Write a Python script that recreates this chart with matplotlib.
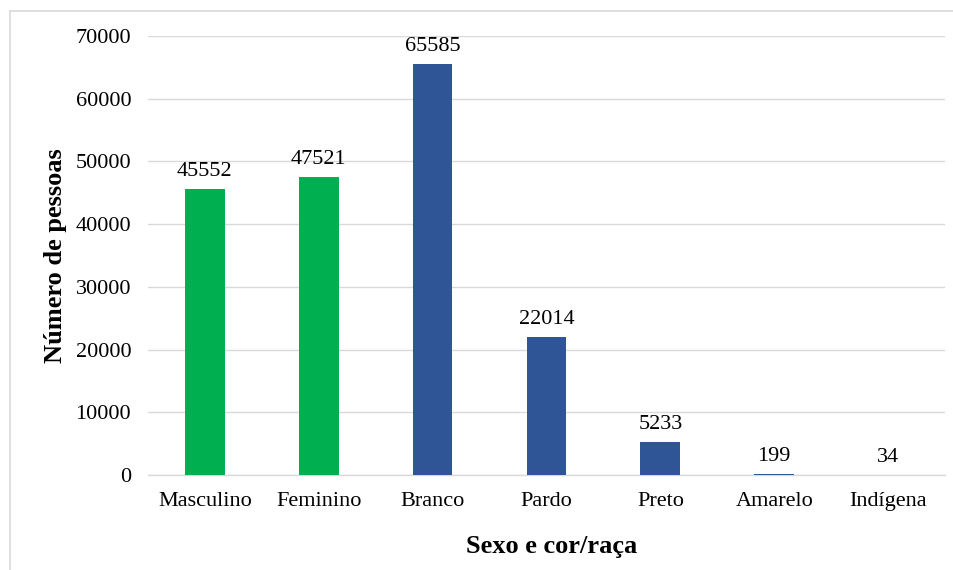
import matplotlib
matplotlib.use("Agg")
import matplotlib.pyplot as plt
from matplotlib.lines import Line2D

categories = ["Masculino", "Feminino", "Branco", "Pardo", "Preto", "Amarelo", "Indígena"]
values = [45552, 47521, 65585, 22014, 5233, 199, 34]
bar_colors = ["#00B050", "#00B050", "#2F5597", "#2F5597", "#2F5597", "#2F5597", "#2F5597"]
yticks = [0, 10000, 20000, 30000, 40000, 50000, 60000, 70000]

plt.rcParams["font.family"] = ["Liberation Serif", "DejaVu Serif"]

fig = plt.figure(figsize=(9.54, 5.70), dpi=100)
ax = fig.add_axes([0.155, 0.1667, 0.8356, 0.7701])

x = range(len(categories))
ax.bar(x, values, width=0.35, color=bar_colors, zorder=3)
for xi, v in zip(x, values):
    ax.text(xi, v + 1300, str(v), ha="center", va="bottom", fontsize=16, color="#000000")

ax.set_xlim(-0.5, len(categories) - 0.5)
ax.set_ylim(0, 70000)
ax.set_yticks(yticks)
ax.set_yticklabels([str(t) for t in yticks], fontsize=16)
ax.set_xticks(list(x))
ax.set_xticklabels(categories, fontsize=16)
ax.tick_params(axis="x", length=0, pad=12)
ax.tick_params(axis="y", length=0, pad=12)
ax.grid(axis="y", color="#D9D9D9", linewidth=1.0, zorder=0)
for s in ["top", "right", "left"]:
    ax.spines[s].set_visible(False)
ax.spines["bottom"].set_color("#D9D9D9")
ax.spines["bottom"].set_linewidth(1.0)

ax.set_xlabel("Sexo e cor/raça", fontsize=19, fontweight="bold")
ax.xaxis.set_label_coords(0.506, -0.137)
ax.set_ylabel("Número de pessoas", fontsize=19, fontweight="bold", labelpad=6)

# thin frame around the chart area (top and left edges)
fig.add_artist(Line2D([10 / 954, 1.0], [1 - 11 / 570, 1 - 11 / 570], transform=fig.transFigure,
                      color="#D9D9D9", linewidth=1.2))
fig.add_artist(Line2D([10 / 954, 10 / 954], [0.0, 1 - 11 / 570], transform=fig.transFigure,
                      color="#D9D9D9", linewidth=1.2))

fig.savefig("out.png", dpi=100)
